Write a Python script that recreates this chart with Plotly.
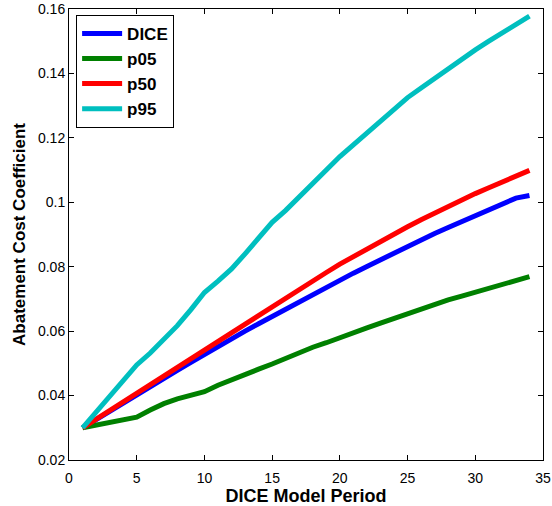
import plotly.graph_objects as go

periods = list(range(1, 35))

dice = [0.0300, 0.0326, 0.0352, 0.0378, 0.0403, 0.0428, 0.0453, 0.0478, 0.0503, 0.0528,
        0.0552, 0.0576, 0.0600, 0.0623, 0.0646, 0.0669, 0.0692, 0.0714, 0.0736, 0.0758,
        0.0780, 0.0801, 0.0822, 0.0843, 0.0863, 0.0883, 0.0903, 0.0922, 0.0941, 0.0960,
        0.0978, 0.0995, 0.1013, 0.1021]

p05 = [0.0300, 0.0308, 0.0316, 0.0324, 0.0333, 0.0355, 0.0375, 0.0390, 0.0402, 0.0412,
       0.0432, 0.0450, 0.0467, 0.0482, 0.0498, 0.0516, 0.0535, 0.0550, 0.0564, 0.0578,
       0.0594, 0.0610, 0.0625, 0.0640, 0.0655, 0.0670, 0.0684, 0.0697, 0.0709, 0.0721,
       0.0733, 0.0745, 0.0757, 0.0769]

p50 = [0.0300, 0.0327, 0.0354, 0.0381, 0.0408, 0.0435, 0.0462, 0.0489, 0.0516, 0.0543,
       0.0570, 0.0597, 0.0624, 0.0651, 0.0678, 0.0704, 0.0730, 0.0756, 0.0782, 0.0808,
       0.0832, 0.0856, 0.0880, 0.0902, 0.0924, 0.0946, 0.0967, 0.0988, 0.1008, 0.1027,
       0.1045, 0.1064, 0.1082, 0.1099]

p95 = [0.0300, 0.0350, 0.0400, 0.0450, 0.0495, 0.0532, 0.0572, 0.0617, 0.0667, 0.0720,
       0.0755, 0.0793, 0.0840, 0.0890, 0.0938, 0.0975, 0.1015, 0.1058, 0.1100, 0.1142,
       0.1178, 0.1214, 0.1251, 0.1288, 0.1325, 0.1355, 0.1385, 0.1415, 0.1445, 0.1473,
       0.1500, 0.1527, 0.1553, 0.1578]

series = [("DICE", dice, "#0000FF"), ("p05", p05, "#008000"),
          ("p50", p50, "#FF0000"), ("p95", p95, "#00BFBF")]

x_ticks = [0, 5, 10, 15, 20, 25, 30, 35]
y_ticks = [0.02, 0.04, 0.06, 0.08, 0.1, 0.12, 0.14, 0.16]
y_labels = ["0.02", "0.04", "0.06", "0.08", "0.1", "0.12", "0.14", "0.16"]

fig = go.Figure()
for name, vals, col in series:
    fig.add_trace(go.Scatter(x=periods, y=vals, mode="lines", name=name,
                             line=dict(color=col, width=5)))

font = "Liberation Sans, Arial, sans-serif"
fig.update_layout(
    width=552, height=506,
    margin=dict(l=69, r=9, t=9, b=46),
    paper_bgcolor="white", plot_bgcolor="white",
    font=dict(family=font, size=14, color="black"),
    showlegend=True,
    legend=dict(x=0.015, y=0.987, xanchor="left", yanchor="top",
                bgcolor="white", bordercolor="black", borderwidth=1,
                font=dict(size=17, family=font, weight="bold"),
                tracegroupgap=0, itemwidth=40),
    xaxis=dict(range=[0, 35], tickvals=x_ticks, ticks="inside", ticklen=5,
               tickcolor="black", showline=True, linecolor="black", linewidth=1,
               mirror="ticks", showgrid=False, zeroline=False, automargin=False,
               ticklabelstandoff=5,
               title=dict(text="DICE Model Period", standoff=2,
                          font=dict(size=18, family=font, weight="bold"))),
    yaxis=dict(range=[0.02, 0.16], tickvals=y_ticks, ticktext=y_labels,
               ticks="inside", ticklen=5, tickcolor="black", showline=True,
               linecolor="black", linewidth=1, mirror="ticks", showgrid=False,
               zeroline=False, automargin=False,
               title=dict(text="Abatement Cost Coefficient", standoff=8,
                          font=dict(size=17, family=font, weight="bold"))),
)

fig.write_html("out.html")
